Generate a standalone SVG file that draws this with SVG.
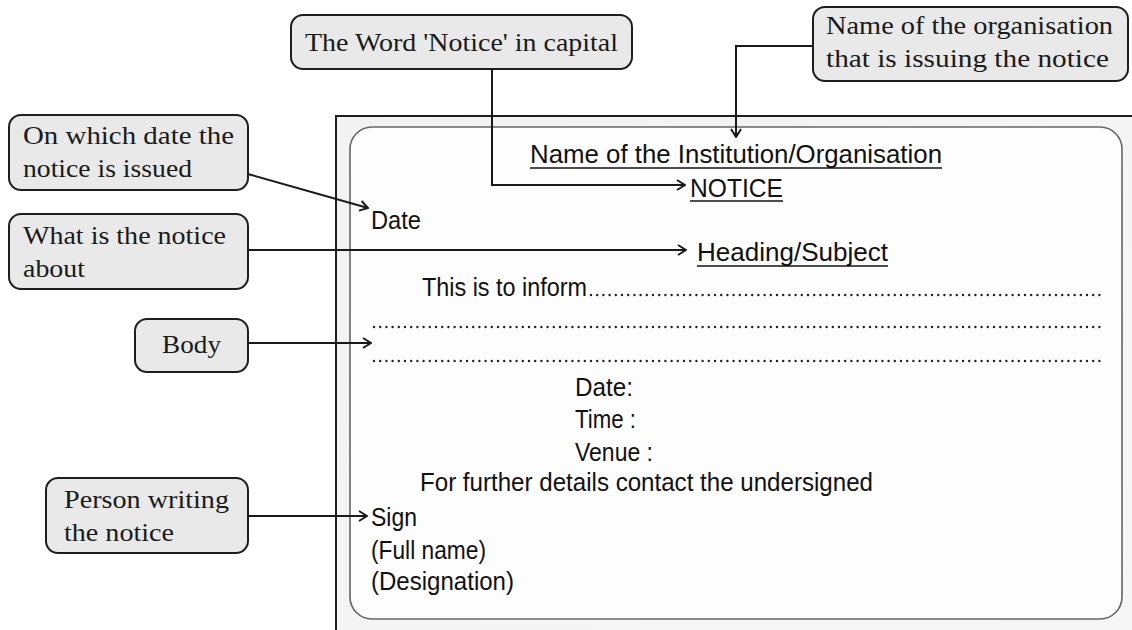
<svg xmlns="http://www.w3.org/2000/svg" width="1132" height="630" viewBox="0 0 1132 630">
<defs>
<marker id="arr" viewBox="0 0 10 12" refX="9" refY="6" markerWidth="10" markerHeight="12" markerUnits="userSpaceOnUse" orient="auto">
<path d="M1,1 L9,6 L1,11" fill="none" stroke="#1a1a1a" stroke-width="2"/>
</marker>
<linearGradient id="frameFill" x1="0" y1="0" x2="1" y2="1">
<stop offset="0" stop-color="#f2f2f2"/>
<stop offset="1" stop-color="#f7f7f7"/>
</linearGradient>
<style>
.box{fill:#e9e9e9;stroke:#1e1e1e;stroke-width:2}
.cl{font-family:"Liberation Serif","DejaVu Serif",serif;font-size:26px;fill:#1a1a1a}
.nt{font-family:"Liberation Sans","DejaVu Sans",sans-serif;font-size:26px;fill:#111}
.ul{stroke:#111;stroke-width:1.6}
.conn{fill:none;stroke:#1a1a1a;stroke-width:2}
.dots{stroke:#222;stroke-width:2.4;stroke-linecap:round;stroke-dasharray:0 6.2}
</style>
</defs>
<rect width="1132" height="630" fill="#ffffff"/>
<g id="notice-sheet">
<rect x="336" y="116" width="800" height="520" fill="url(#frameFill)" stroke="#1e1e1e" stroke-width="2"/>
<rect x="350" y="127" width="772" height="492" rx="22" fill="#fdfdfd" stroke="#666" stroke-width="1.6"/>
<text class="nt" x="530" y="163" textLength="412" lengthAdjust="spacingAndGlyphs">Name of the Institution/Organisation</text>
<line class="ul" x1="530" y1="168" x2="942" y2="168"/>
<text class="nt" x="690" y="197" textLength="93" lengthAdjust="spacingAndGlyphs">NOTICE</text>
<line class="ul" x1="690" y1="201" x2="783" y2="201"/>
<text class="nt" x="371" y="229" textLength="50" lengthAdjust="spacingAndGlyphs">Date</text>
<text class="nt" x="697" y="261" textLength="191" lengthAdjust="spacingAndGlyphs">Heading/Subject</text>
<line class="ul" x1="697" y1="266" x2="888" y2="266"/>
<text class="nt" x="422" y="296" textLength="165" lengthAdjust="spacingAndGlyphs">This is to inform</text>
<line class="dots" x1="591" y1="295" x2="1101" y2="295"/>
<line class="dots" x1="374" y1="327" x2="1101" y2="327"/>
<line class="dots" x1="374" y1="361" x2="1101" y2="361"/>
<text class="nt" x="575" y="396" textLength="58" lengthAdjust="spacingAndGlyphs">Date:</text>
<text class="nt" x="575" y="428" textLength="61" lengthAdjust="spacingAndGlyphs">Time :</text>
<text class="nt" x="575" y="461" textLength="78" lengthAdjust="spacingAndGlyphs">Venue :</text>
<text class="nt" x="420" y="491" textLength="453" lengthAdjust="spacingAndGlyphs">For further details contact the undersigned</text>
<text class="nt" x="371" y="526" textLength="46" lengthAdjust="spacingAndGlyphs">Sign</text>
<text class="nt" x="371" y="559" textLength="115" lengthAdjust="spacingAndGlyphs">(Full name)</text>
<text class="nt" x="371" y="590" textLength="143" lengthAdjust="spacingAndGlyphs">(Designation)</text>
</g>
<g id="connectors">
<polyline class="conn" points="492,69 492,185 685,185" marker-end="url(#arr)"/>
<polyline class="conn" points="813,46 736,46 736,137" marker-end="url(#arr)"/>
<line class="conn" x1="248" y1="174" x2="368" y2="208" marker-end="url(#arr)"/>
<line class="conn" x1="248" y1="250" x2="686" y2="250" marker-end="url(#arr)"/>
<line class="conn" x1="248" y1="343" x2="371" y2="343" marker-end="url(#arr)"/>
<line class="conn" x1="248" y1="516" x2="367" y2="516" marker-end="url(#arr)"/>
</g>
<g id="callout-notice-word">
<rect class="box" x="291" y="15" width="341" height="54" rx="12"/>
<text class="cl" x="305" y="51" textLength="313" lengthAdjust="spacingAndGlyphs">The Word 'Notice' in capital</text>
</g>
<g id="callout-organisation">
<rect class="box" x="813" y="7" width="315" height="74" rx="12"/>
<text class="cl" x="826" y="34" textLength="287" lengthAdjust="spacingAndGlyphs">Name of the organisation</text>
<text class="cl" x="826" y="67" textLength="283" lengthAdjust="spacingAndGlyphs">that is issuing the notice</text>
</g>
<g id="callout-date">
<rect class="box" x="9" y="115" width="239" height="75" rx="12"/>
<text class="cl" x="23" y="144" textLength="211" lengthAdjust="spacingAndGlyphs">On which date the</text>
<text class="cl" x="23" y="177" textLength="169" lengthAdjust="spacingAndGlyphs">notice is issued</text>
</g>
<g id="callout-about">
<rect class="box" x="9" y="214" width="239" height="75" rx="12"/>
<text class="cl" x="23" y="244" textLength="203" lengthAdjust="spacingAndGlyphs">What is the notice</text>
<text class="cl" x="23" y="277" textLength="62" lengthAdjust="spacingAndGlyphs">about</text>
</g>
<g id="callout-body">
<rect class="box" x="135" y="319" width="113" height="53" rx="12"/>
<text class="cl" x="162" y="353" textLength="59" lengthAdjust="spacingAndGlyphs">Body</text>
</g>
<g id="callout-person">
<rect class="box" x="46" y="478" width="202" height="75" rx="12"/>
<text class="cl" x="64" y="508" textLength="165" lengthAdjust="spacingAndGlyphs">Person writing</text>
<text class="cl" x="64" y="541" textLength="110" lengthAdjust="spacingAndGlyphs">the notice</text>
</g>
</svg>
